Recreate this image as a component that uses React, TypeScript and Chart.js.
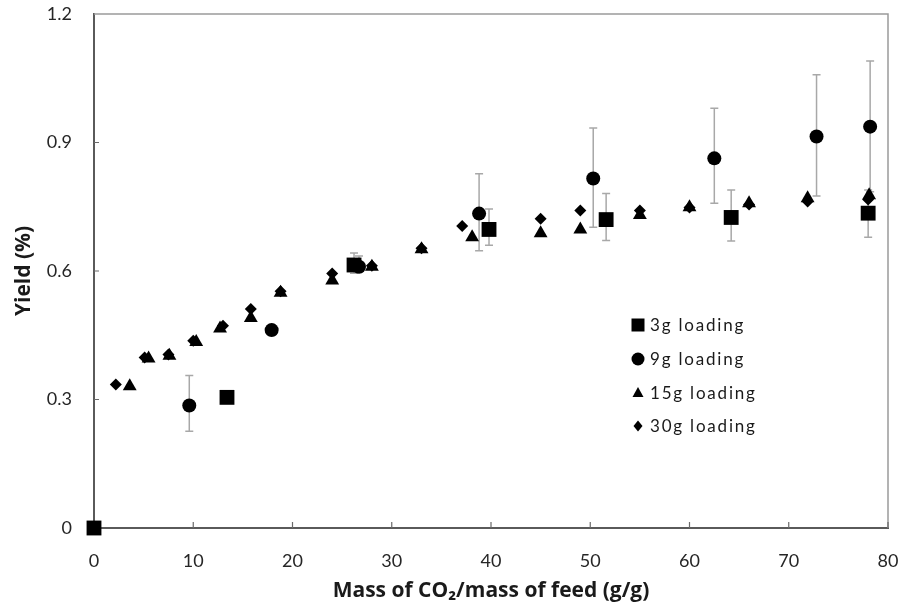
import React, { useEffect, useRef } from 'react';
import { Chart, registerables } from 'chart.js';
Chart.register(...registerables);

// ---- data ----
const labels = ['3g loading', '9g loading', '15g loading', '30g loading'];

const x3 = [0, 13.4, 26.2, 39.8, 51.6, 64.2, 78.0];
const y3 = [0, 0.305, 0.614, 0.697, 0.72, 0.725, 0.735];
const e3lo = [null, null, 0.595, 0.66, 0.671, 0.67, 0.679];
const e3hi = [null, null, 0.642, 0.745, 0.781, 0.789, 0.789];

const x9 = [9.6, 17.9, 26.7, 38.8, 50.3, 62.5, 72.8, 78.2];
const y9 = [0.286, 0.462, 0.61, 0.734, 0.816, 0.863, 0.914, 0.937];
const e9lo = [0.226, 0.45, 0.598, 0.647, 0.702, 0.758, 0.775, 0.785];
const e9hi = [0.356, 0.474, 0.635, 0.827, 0.934, 0.98, 1.058, 1.09];

const x15 = [3.6, 5.5, 7.6, 10.3, 12.7, 15.8, 18.8, 24.0, 28.0, 33.0, 38.1, 45.0, 49.0, 55.0, 60.0, 66.0, 71.9, 78.1];
const y15 = [0.331, 0.396, 0.402, 0.434, 0.466, 0.49, 0.549, 0.578, 0.61, 0.651, 0.679, 0.688, 0.697, 0.731, 0.749, 0.758, 0.77, 0.777];

const x30 = [2.2, 5.1, 7.5, 10.0, 13.0, 15.8, 18.8, 24.0, 28.0, 33.0, 37.1, 45.0, 49.0, 55.0, 60.0, 66.0, 71.9, 78.0];
const y30 = [0.335, 0.398, 0.405, 0.437, 0.472, 0.511, 0.553, 0.594, 0.612, 0.653, 0.705, 0.722, 0.741, 0.741, 0.748, 0.755, 0.762, 0.767];

const xTicks = [0, 10, 20, 30, 40, 50, 60, 70, 80];
const yTicks = [0, 0.3, 0.6, 0.9, 1.2];

const xTitle = 'Mass of CO\u2082/mass of feed (g/g)';
const yTitle = 'Yield (%)';

const pts = (xs: number[], ys: number[]) => xs.map((x, i) => ({ x, y: ys[i] }));

const errSets = [
  { xv: x3, lo: e3lo, hi: e3hi },
  { xv: x9, lo: e9lo, hi: e9hi },
];

const FONT = 'Lato, "Open Sans", sans-serif';
const TITLE_FONT = '"Open Sans", Lato, sans-serif';

const framePlugin = {
  id: 'frame',
  beforeDatasetsDraw(chart: any) {
    const { ctx, chartArea: a, scales } = chart;
    ctx.save();
    ctx.strokeStyle = '#9a9a9a';
    ctx.lineWidth = 1.5;
    ctx.beginPath();
    ctx.moveTo(a.left, a.top);
    ctx.lineTo(a.right, a.top);
    ctx.lineTo(a.right, a.bottom);
    ctx.stroke();
    // inward ticks
    ctx.strokeStyle = '#6a6a6a';
    ctx.lineWidth = 1.2;
    ctx.beginPath();
    xTicks.forEach((v) => {
      if (v === 0) return;
      const px = scales.x.getPixelForValue(v);
      ctx.moveTo(px, a.bottom);
      ctx.lineTo(px, a.bottom - 6);
    });
    yTicks.forEach((v) => {
      if (v === 0 || v === 1.2) return;
      const py = scales.y.getPixelForValue(v);
      ctx.moveTo(a.left, py);
      ctx.lineTo(a.left + 5, py);
    });
    ctx.stroke();
    // error bars
    ctx.strokeStyle = '#a8a8a8';
    ctx.lineWidth = 1.5;
    ctx.beginPath();
    errSets.forEach(({ xv, lo, hi }) => {
      xv.forEach((x, i) => {
        const l = lo[i];
        const h = hi[i];
        if (l == null || h == null) return;
        const px = scales.x.getPixelForValue(x);
        const pl = scales.y.getPixelForValue(l);
        const ph = scales.y.getPixelForValue(h);
        ctx.moveTo(px, pl);
        ctx.lineTo(px, ph);
        ctx.moveTo(px - 4, pl);
        ctx.lineTo(px + 4, pl);
        ctx.moveTo(px - 4, ph);
        ctx.lineTo(px + 4, ph);
      });
    });
    ctx.stroke();
    ctx.restore();
  },
};

const legendPlugin = {
  id: 'insideLegend',
  afterDatasetsDraw(chart: any) {
    const { ctx } = chart;
    const mx = 638;
    const tx = 650;
    const rows = [325, 359, 393, 426];
    ctx.save();
    ctx.fillStyle = '#000';
    chart.data.datasets.forEach((ds: any, i: number) => {
      const y = rows[i];
      ctx.beginPath();
      const s = ds.pointStyle;
      if (s === 'rect') {
        ctx.rect(mx - 6.5, y - 6.5, 13, 13);
      } else if (s === 'circle') {
        ctx.arc(mx, y, 6.5, 0, Math.PI * 2);
      } else if (s === 'triangle') {
        ctx.moveTo(mx, y - 6);
        ctx.lineTo(mx + 5.5, y + 4);
        ctx.lineTo(mx - 5.5, y + 4);
        ctx.closePath();
      } else {
        ctx.moveTo(mx, y - 5.5);
        ctx.lineTo(mx + 4.5, y);
        ctx.lineTo(mx, y + 5.5);
        ctx.lineTo(mx - 4.5, y);
        ctx.closePath();
      }
      ctx.fill();
      ctx.font = `17px ${FONT}`;
      (ctx as any).letterSpacing = '1.8px';
      ctx.textBaseline = 'middle';
      ctx.textAlign = 'left';
      ctx.fillStyle = '#1a1a1a';
      ctx.fillText(ds.label, tx, y + 1);
      (ctx as any).letterSpacing = '0px';
      ctx.fillStyle = '#000';
    });
    ctx.restore();
  },
};

const zeroPad = (s: any) => {
  s.paddingLeft = 0;
  s.paddingRight = 0;
  s.paddingTop = 0;
  s.paddingBottom = 0;
};

export default function App() {
  const ref = useRef<HTMLCanvasElement>(null);
  useEffect(() => {
    const canvas = ref.current;
    if (!canvas) return;
    const common = {
      backgroundColor: '#000',
      borderColor: '#000',
      borderWidth: 0,
      showLine: false,
      clip: false as any,
    };
    const chart = new Chart(canvas, {
      type: 'scatter',
      data: {
        datasets: [
          { ...common, label: labels[0], data: pts(x3, y3), pointStyle: 'rect', pointRadius: 10.5, pointHoverRadius: 10.5 },
          { ...common, label: labels[1], data: pts(x9, y9), pointStyle: 'circle', pointRadius: 7, pointHoverRadius: 7 },
          { ...common, label: labels[2], data: pts(x15, y15), pointStyle: 'triangle', pointRadius: 8, pointHoverRadius: 8 },
          { ...common, label: labels[3], data: pts(x30, y30), pointStyle: 'rectRot', pointRadius: 6, pointHoverRadius: 6 },
        ],
      },
      options: {
        responsive: false,
        animation: false,
        devicePixelRatio: 1,
        layout: { padding: { top: 14, right: 15, left: 0, bottom: 0 } },
        plugins: {
          legend: { display: false },
          tooltip: { enabled: false },
        },
        scales: {
          x: {
            type: 'linear',
            min: 0,
            max: 80,
            afterBuildTicks: (s: any) => {
              s.ticks = xTicks.map((v) => ({ value: v }));
            },
            afterFit: (s: any) => {
              s.height = 79;
              zeroPad(s);
            },
            grid: { display: false, drawTicks: false },
            border: { display: true, color: '#5a5a5a', width: 2 },
            ticks: {
              padding: 22,
              color: '#262626',
              font: { family: FONT, size: 18 },
              maxRotation: 0,
            },
            title: {
              display: true,
              text: xTitle,
              color: '#1a1a1a',
              font: { family: TITLE_FONT, size: 21, weight: 'bold' },
              padding: { top: 0, bottom: 3 },
            },
          },
          y: {
            type: 'linear',
            min: 0,
            max: 1.2,
            afterBuildTicks: (s: any) => {
              s.ticks = yTicks.map((v) => ({ value: v }));
            },
            afterFit: (s: any) => {
              s.width = 94;
              zeroPad(s);
            },
            grid: { display: false, drawTicks: false },
            border: { display: true, color: '#5a5a5a', width: 2 },
            ticks: {
              padding: 22,
              color: '#262626',
              font: { family: FONT, size: 18 },
              callback: (v: any) => String(+(+v).toFixed(1)),
            },
            title: {
              display: true,
              text: yTitle,
              color: '#1a1a1a',
              font: { family: TITLE_FONT, size: 21, weight: 'bold' },
              padding: { top: 11, bottom: 0 },
            },
          },
        },
      } as any,
      plugins: [framePlugin, legendPlugin],
    });
    return () => chart.destroy();
  }, []);
  return (
    <div style={{ position: 'fixed', left: 0, top: 0, width: 903, height: 607, background: '#fff' }}>
      <canvas ref={ref} width={903} height={607} style={{ display: 'block', width: 903, height: 607 }} />
    </div>
  );
}
